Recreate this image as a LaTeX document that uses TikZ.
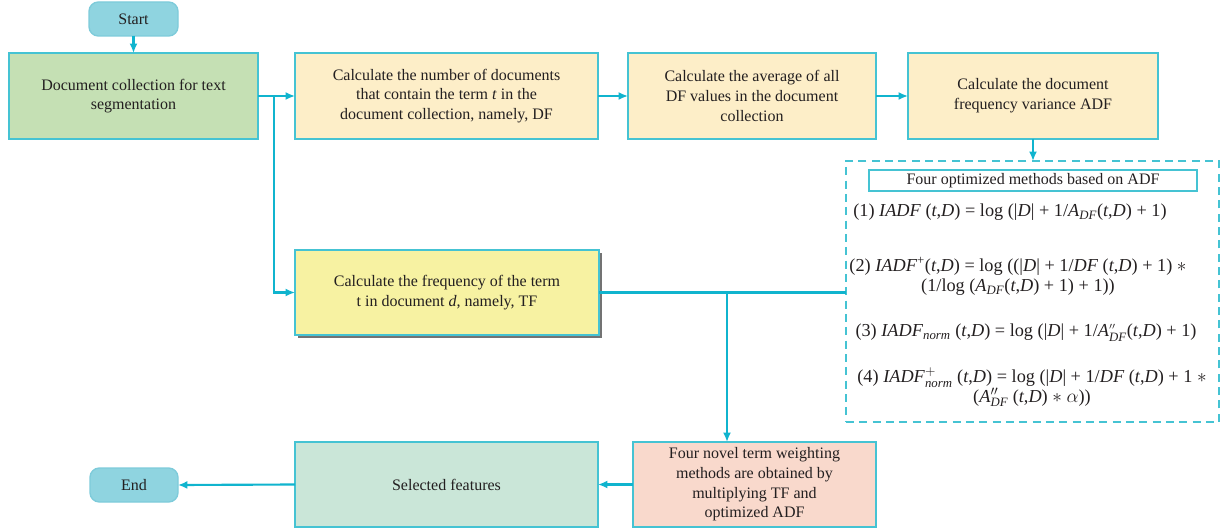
\documentclass[tikz,border=0pt]{standalone}
\usepackage{amstext}
\usepackage{fontspec}
\setmainfont{Liberation Serif}
\usetikzlibrary{arrows.meta,shadows}
\definecolor{linec}{HTML}{10B4CE}
\definecolor{borderc}{HTML}{45C3D3}
\definecolor{termc}{HTML}{8FD4E0}
\definecolor{termb}{HTML}{7ECBDA}
\definecolor{docc}{HTML}{C5E0B4}
\definecolor{creamc}{HTML}{FDEEC8}
\definecolor{tfc}{HTML}{F7F2A2}
\definecolor{novelc}{HTML}{F9D9CC}
\definecolor{selc}{HTML}{CAE6D8}
\definecolor{txtc}{HTML}{231F20}
\tikzset{
  base/.style={outer sep=0pt, inner sep=2pt, text=txtc, align=center,
    font=\fontsize{12}{14.8}\selectfont},
  boxnode/.style={base, draw=borderc, line width=1pt, rectangle},
  termnode/.style={base, draw=termb, fill=termc, line width=1pt, rounded corners=7pt},
  conn/.style={draw=linec, line width=1.6pt},
  arr/.style={conn, -{Latex[length=7pt,width=6pt]}},
  formula/.style={base, font=\fontsize{13.7}{14.5}\selectfont},
}
\begin{document}
\begin{tikzpicture}[x=0.75pt,y=-0.75pt]
\useasboundingbox (0,0) rectangle (1221,531);
% terminals
\node[termnode, minimum width=89*0.75pt, minimum height=34*0.75pt] (start) at (133.5,19) {Start};
\node[termnode, minimum width=88*0.75pt, minimum height=34*0.75pt] (end) at (134,485) {End};
% top row
\node[boxnode, fill=docc, minimum width=249*0.75pt, minimum height=86*0.75pt] (doc) at (133.5,96)
  {Document collection for text\\segmentation};
\node[boxnode, fill=creamc, minimum width=303*0.75pt, minimum height=86*0.75pt] (b2) at (446.5,96)
  {Calculate the number of documents\\that contain the term \textit{t} in the\\document collection, namely, DF};
\node[boxnode, fill=creamc, minimum width=248*0.75pt, minimum height=86*0.75pt] (b3) at (752,96)
  {Calculate the average of all\\DF values in the document\\collection};
\node[boxnode, fill=creamc, minimum width=250*0.75pt, minimum height=86*0.75pt] (b4) at (1033,96)
  {Calculate the document\\frequency variance ADF};
% TF box
\node[boxnode, fill=tfc, minimum width=304*0.75pt, minimum height=85*0.75pt,
  drop shadow={shadow xshift=2.2pt, shadow yshift=-2.2pt, fill=black!55, opacity=1}] (tf) at (447,292.5)
  {Calculate the frequency of the term\\t in document \textit{d}, namely, TF};
% dashed box
\node[draw=borderc, line width=1.3pt, dash pattern=on 6pt off 4pt, minimum width=373*0.75pt,
  minimum height=261*0.75pt, outer sep=0pt, inner sep=0pt] (dash) at (1032.5,291.5) {};
\node[boxnode, fill=white, minimum width=328*0.75pt, minimum height=21*0.75pt, inner sep=0pt] (title) at (1033,180.5)
  {Four optimized methods based on ADF};
\node[formula] (f1) at (1010,212)
  {(1) \textit{IADF} (\textit{t},\textit{D}) = log (|\textit{D}| + 1/\textit{A}$_{\textit{DF}}$(\textit{t},\textit{D}) + 1)};
\node[formula] (f2) at (1018,276.5)
  {(2) \textit{IADF}\textsuperscript{+}(\textit{t},\textit{D}) = log ((|\textit{D}| + 1/\textit{DF} (\textit{t},\textit{D}) + 1) $\ast$\\
   (1/log (\textit{A}$_{\textit{DF}}$(\textit{t},\textit{D}) + 1) + 1))};
\node[formula] (f3) at (1026,333)
  {(3) \textit{IADF}$_{\textit{norm}}$ (\textit{t},\textit{D}) = log (|\textit{D}| + 1/\textit{A}$^{\scriptscriptstyle\prime\prime}_{\textit{DF}}$(\textit{t},\textit{D}) + 1)};
\node[formula] (f4) at (1032,387.5)
  {(4) \textit{IADF}$^{+}_{\textit{norm}}$ (\textit{t},\textit{D}) = log (|\textit{D}| + 1/\textit{DF} (\textit{t},\textit{D}) + 1 $\ast$\\
   (\textit{A}$^{\prime\prime}_{\textit{DF}}$ (\textit{t},\textit{D}) $\ast$ $\alpha$))};
% bottom row
\node[boxnode, fill=novelc, minimum width=243*0.75pt, minimum height=85*0.75pt] (novel) at (754.5,484.5)
  {Four novel term weighting\\methods are obtained by\\multiplying TF and\\optimized ADF};
\node[boxnode, fill=selc, minimum width=303*0.75pt, minimum height=85*0.75pt] (sel) at (446.5,484.5)
  {Selected features};
% connectors
\coordinate (j1) at (274,96);
\coordinate (j2) at (727,292.5);
\draw[arr] (start.south) -- (doc.north);
\draw[arr] (doc.east) -- (b2.west);
\draw[arr] (j1) |- (tf.west);
\draw[arr] (b2.east) -- (b3.west);
\draw[arr] (b3.east) -- (b4.west);
\draw[arr] (b4.south) -- (b4.south |- dash.north);
\draw[conn] (tf.east) -- (tf.east -| dash.west);
\draw[arr] (j2) -- (j2 |- novel.north);
\draw[arr] (novel.west) -- (sel.east);
\draw[arr] (sel.west) -- (end.east);
\end{tikzpicture}
\end{document}
